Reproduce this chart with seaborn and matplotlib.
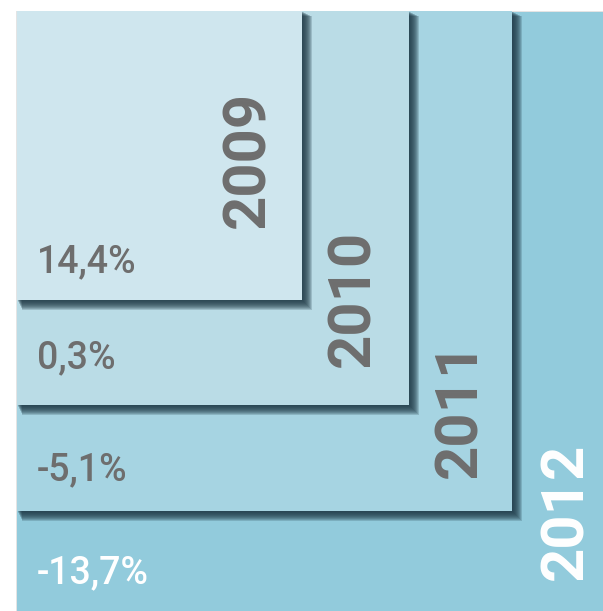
import matplotlib
matplotlib.use("Agg")
import matplotlib.pyplot as plt
from matplotlib.patches import Rectangle
import seaborn as sns

#%% data
years = ["2009", "2010", "2011", "2012"]
growth = ["14,4%", "0,3%", "-5,1%", "-13,7%"]
# square sizes (width, height in pixel units)
widths = [285, 392, 495, 590]
heights = [289, 394, 500, 600]
box_colors = ["#CFE6EE", "#BADCE6", "#A6D4E2", "#92CBDC"]
text_colors = ["#6E6E6E", "#6E6E6E", "#6E6E6E", "#FFFFFF"]

#%% style
sns.set_theme(style="white")
plt.rcParams["font.family"] = ["Roboto", "DejaVu Sans"]

fig = plt.figure(figsize=(6.03, 6.11), dpi=100)
ax = fig.add_axes([0, 0, 1, 1])
ax.set_xlim(0, 603)
ax.set_ylim(611, 0)
ax.axis("off")

x0, y0 = 17, 11

# draw biggest square first, smaller ones stacked on top with a soft shadow
for i in reversed(range(len(years))):
    w, h = widths[i], heights[i]
    top = y0 + (1 if i == 3 else 0)
    if i < 3:
        # blurred shadow, offset down and right
        for off in range(1, 11):
            ax.add_patch(Rectangle((x0 + off * 0.5, top + off * 0.5), w + off * 0.5, h + off * 0.5,
                                   facecolor="#1f3a46", edgecolor="none", alpha=0.2, zorder=2 * (4 - i)))
    else:
        # faint outline at the top-left of the back square
        ax.add_patch(Rectangle((x0 - 1.5, top - 1.5), w + 3, h + 3,
                               facecolor="#e4e4e4", edgecolor="none", zorder=0))
    ax.add_patch(Rectangle((x0, top), w, h, facecolor=box_colors[i],
                           edgecolor="none", zorder=2 * (4 - i) + 1))

# year labels (rotated) and growth labels
year_x = [248, 353, 460, 566]
year_bottom = [228, 367, 478, 580]
pct_y = [262, 358, 470, 573]
for i in range(len(years)):
    z = 2 * (4 - i) + 1.5
    ax.text(year_x[i], year_bottom[i], years[i], rotation=90, ha="center", va="bottom",
            fontsize=43, fontweight="bold", color=text_colors[i], zorder=z)
    ax.text(37, pct_y[i], growth[i], ha="left", va="center",
            fontsize=27, fontweight="medium", color=text_colors[i], zorder=z)

fig.savefig("out.png", dpi=100)
